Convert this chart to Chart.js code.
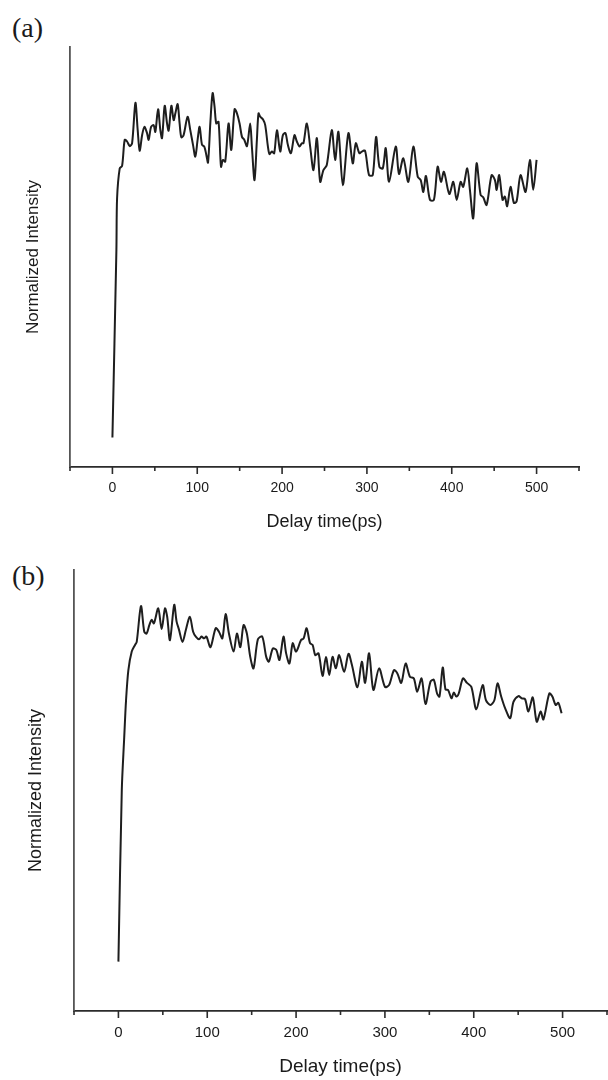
<!DOCTYPE html>
<html lang="en">
<head>
    <meta charset="UTF-8">
    <title>Normalized Intensity vs Delay time</title>
    <script src="https://cdn.jsdelivr.net/npm/chart.js"></script>
    <style>
        body {
            margin: 0;
            width: 608px;
            height: 1080px;
            overflow: hidden;
            background: #fff;
            position: relative;
        }
        .panel {
            position: absolute;
            left: 0;
        }
        .tag {
            position: absolute;
            left: 12px;
            font-family: 'Liberation Serif', serif;
            font-size: 28px;
            line-height: 1;
            color: #1a1a1a;
        }
    </style>
</head>
<body>
    <div class="tag" style="top: 14px;">(a)</div>
    <div class="tag" style="top: 562px;">(b)</div>
    <canvas id="chartA" class="panel" style="top: 0;" width="608" height="540"></canvas>
    <canvas id="chartB" class="panel" style="top: 540px;" width="620" height="540"></canvas>

    <script>
        // panel (a)
        const timeA = [0, 4.7, 5.5, 8.6, 11.4, 14.5, 17.3, 20.4, 23.2, 27.1, 29.8, 32.1, 35.0, 37.7, 40.8, 42.7, 45.6, 48.6, 50.6, 53.8,
            56.5, 58.5, 61.6, 64.4, 66.3, 69.5, 72.2, 74.2, 76.9, 79.2, 81.2, 83.9, 88.6, 91.8, 95.0, 97.7, 100.4, 102.8, 105.6, 108.3,
            110.7, 112.7, 115.4, 118.1, 120.4, 122.4, 125.1, 128.0, 130.3, 133.0, 136.9, 140.1, 144.0, 146.8, 149.9, 152.7, 155.4, 158.6, 162.4, 164.4,
            167.5, 170.3, 172.2, 174.2, 177.4, 180.1, 183.3, 185.2, 188.0, 190.7, 193.9, 197.8, 200.9, 204.0, 206.8, 210.4, 214.6, 217.4, 220.5, 223.3,
            225.2, 229.2, 233.1, 237.0, 241.0, 244.9, 248.7, 252.7, 258.6, 262.5, 266.4, 271.6, 278.2, 283.3, 286.9, 291.1, 293.9, 297.8, 302.5, 306.9,
            310.8, 314.7, 318.7, 322.2, 326.1, 334.0, 337.8, 342.9, 348.8, 354.7, 359.9, 363.4, 366.5, 369.6, 374.3, 379.0, 383.4, 387.3, 390.8, 397.1,
            401.8, 405.8, 410.5, 413.5, 418.3, 421.4, 425.3, 429.3, 434.0, 437.1, 441.1, 447.0, 450.9, 452.9, 455.9, 459.9, 462.6, 465.3, 469.3, 473.2,
            476.4, 481.1, 487.0, 492.1, 496.0, 500.0];
        const intensityA = [0.070, 0.517, 0.640, 0.711, 0.717, 0.779, 0.775, 0.764, 0.771, 0.867, 0.802, 0.753, 0.790, 0.810, 0.795, 0.779, 0.810, 0.814, 0.798, 0.852,
            0.802, 0.783, 0.860, 0.818, 0.801, 0.860, 0.826, 0.842, 0.864, 0.818, 0.785, 0.790, 0.834, 0.802, 0.767, 0.739, 0.779, 0.810, 0.767, 0.763,
            0.743, 0.725, 0.818, 0.890, 0.858, 0.818, 0.822, 0.715, 0.731, 0.727, 0.818, 0.755, 0.852, 0.842, 0.818, 0.786, 0.779, 0.764, 0.818, 0.763,
            0.683, 0.779, 0.842, 0.834, 0.828, 0.814, 0.763, 0.745, 0.751, 0.747, 0.802, 0.751, 0.790, 0.795, 0.767, 0.747, 0.790, 0.775, 0.763, 0.771,
            0.771, 0.818, 0.763, 0.707, 0.783, 0.679, 0.707, 0.719, 0.802, 0.731, 0.798, 0.671, 0.795, 0.723, 0.771, 0.747, 0.751, 0.753, 0.695, 0.695,
            0.786, 0.715, 0.711, 0.759, 0.679, 0.763, 0.698, 0.735, 0.679, 0.763, 0.691, 0.683, 0.655, 0.693, 0.636, 0.636, 0.715, 0.679, 0.703, 0.650,
            0.679, 0.636, 0.679, 0.667, 0.711, 0.660, 0.592, 0.723, 0.648, 0.642, 0.624, 0.695, 0.683, 0.660, 0.695, 0.636, 0.644, 0.621, 0.667, 0.629,
            0.632, 0.695, 0.655, 0.731, 0.660, 0.731];

        // panel (b)
        const timeB = [0, 3.8, 6.4, 8.6, 11.2, 15.0, 18.7, 20.6, 25.4, 29.1, 31.8, 34.8, 37.4, 40.0, 44.8, 48.7, 52.4, 54.9, 58.0, 62.8,
            65.5, 68.0, 72.2, 75.9, 80.4, 84.1, 87.1, 90.8, 93.5, 96.4, 99.1, 103.6, 109.5, 113.2, 117.0, 120.7, 124.4, 129.7, 133.4, 137.2,
            140.9, 144.6, 148.4, 152.1, 157.0, 161.9, 166.4, 169.3, 173.8, 177.6, 181.3, 185.8, 188.8, 192.5, 196.2, 200.0, 205.6, 208.5, 211.9, 215.7,
            218.6, 221.6, 225.3, 229.8, 233.6, 237.3, 241.0, 244.8, 248.5, 254.1, 259.0, 262.8, 269.1, 274.0, 277.7, 282.2, 287.0, 293.4, 300.1, 304.6,
            310.2, 313.9, 318.4, 323.3, 328.1, 332.6, 336.3, 341.3, 345.7, 351.3, 355.0, 358.7, 361.4, 365.1, 368.2, 371.1, 374.9, 377.5, 380.5, 383.1,
            387.9, 392.4, 397.3, 402.9, 410.0, 413.7, 418.6, 423.1, 426.8, 430.9, 435.4, 441.0, 444.7, 450.3, 454.0, 457.8, 461.5, 466.4, 470.9, 475.3,
            478.4, 485.1, 488.5, 492.2, 495.2, 498.9];
        const intensityB = [0.112, 0.501, 0.615, 0.705, 0.773, 0.815, 0.830, 0.837, 0.918, 0.860, 0.856, 0.875, 0.887, 0.879, 0.913, 0.866, 0.913, 0.894, 0.841, 0.921,
            0.883, 0.866, 0.837, 0.864, 0.894, 0.860, 0.849, 0.843, 0.849, 0.845, 0.849, 0.825, 0.868, 0.860, 0.845, 0.900, 0.856, 0.815, 0.856, 0.825,
            0.875, 0.856, 0.803, 0.777, 0.843, 0.849, 0.803, 0.792, 0.822, 0.819, 0.796, 0.849, 0.811, 0.788, 0.834, 0.815, 0.841, 0.845, 0.868, 0.834,
            0.830, 0.807, 0.811, 0.760, 0.803, 0.762, 0.803, 0.777, 0.807, 0.769, 0.810, 0.785, 0.734, 0.792, 0.744, 0.811, 0.728, 0.777, 0.735, 0.739,
            0.773, 0.766, 0.744, 0.788, 0.758, 0.754, 0.724, 0.754, 0.696, 0.747, 0.751, 0.720, 0.713, 0.779, 0.729, 0.728, 0.709, 0.722, 0.713, 0.720,
            0.754, 0.744, 0.735, 0.684, 0.739, 0.705, 0.694, 0.704, 0.743, 0.713, 0.686, 0.664, 0.701, 0.714, 0.709, 0.707, 0.679, 0.711, 0.656, 0.679,
            0.661, 0.720, 0.713, 0.694, 0.699, 0.675];

        const xMin = -50;
        const xMax = 550;
        const xStep = 50;
        const xLabelStep = 100;
        const xTitle = 'Delay time(ps)';
        const yTitle = 'Normalized Intensity';

        // origin-style ticks: long ones at labelled values, short ones in between
        const axisTicks = {
            id: 'axisTicks',
            afterDraw(chart) {
                const scale = chart.scales.x;
                const ctx = chart.ctx;
                ctx.save();
                ctx.strokeStyle = '#2b2b2b';
                ctx.lineWidth = 1.6;
                scale.ticks.forEach(t => {
                    const px = scale.getPixelForValue(t.value);
                    const len = t.value % xLabelStep === 0 ? 7 : 4;
                    ctx.beginPath();
                    ctx.moveTo(px, scale.top);
                    ctx.lineTo(px, scale.top + len);
                    ctx.stroke();
                });
                ctx.restore();
            }
        };

        function makeChart(id, times, values, cfg) {
            const points = times.map((t, i) => ({ x: t, y: values[i] }));
            return new Chart(document.getElementById(id), {
                type: 'line',
                data: {
                    datasets: [{
                        data: points,
                        borderColor: '#1e1e1e',
                        borderWidth: 2,
                        pointRadius: 0,
                        tension: 0.3,
                        fill: false
                    }]
                },
                options: {
                    responsive: false,
                    animation: false,
                    layout: { padding: { top: cfg.top, right: cfg.right, left: 0, bottom: 0 } },
                    plugins: { legend: { display: false }, tooltip: { enabled: false } },
                    scales: {
                        x: {
                            type: 'linear',
                            min: xMin,
                            max: xMax,
                            afterFit: s => { s.height = cfg.xHeight; },
                            ticks: {
                                stepSize: xStep,
                                autoSkip: false,
                                maxRotation: 0,
                                padding: cfg.tickPad,
                                color: '#1a1a1a',
                                font: { family: 'Liberation Sans', size: cfg.tickSize },
                                callback: v => (v % xLabelStep === 0 && v >= 0 && v <= 500) ? v : ''
                            },
                            grid: { display: false, drawTicks: false },
                            border: { display: true, color: '#2b2b2b', width: 1.8 },
                            title: {
                                display: true,
                                text: xTitle,
                                color: '#1a1a1a',
                                font: { family: 'Liberation Sans', size: cfg.titleSize },
                                padding: { top: 0, bottom: cfg.xTitlePad }
                            }
                        },
                        y: {
                            min: 0,
                            max: 1,
                            afterFit: s => { s.width = cfg.yWidth; },
                            ticks: { display: false },
                            grid: { display: false, drawTicks: false },
                            border: { display: true, color: '#555', width: 1.8 },
                            title: {
                                display: true,
                                text: yTitle,
                                color: '#1a1a1a',
                                font: { family: 'Liberation Sans', size: cfg.yTitleSize },
                                padding: { top: cfg.yTitlePad, bottom: 0 }
                            }
                        }
                    }
                },
                plugins: [axisTicks]
            });
        }

        makeChart('chartA', timeA, intensityA, {
            top: 47, right: 29, xHeight: 73, yWidth: 70,
            tickPad: 13, tickSize: 14, titleSize: 18, xTitlePad: 7,
            yTitleSize: 17, yTitlePad: 23
        });

        makeChart('chartB', timeB, intensityB, {
            top: 30, right: 11, xHeight: 69, yWidth: 74,
            tickPad: 13, tickSize: 15, titleSize: 19, xTitlePad: 2,
            yTitleSize: 18, yTitlePad: 25
        });
    </script>
</body>
</html>
